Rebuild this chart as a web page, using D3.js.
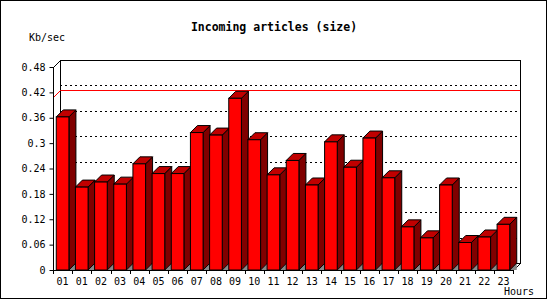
<!DOCTYPE html>
<html>
<head>
<meta charset="utf-8">
<script src="https://cdn.jsdelivr.net/npm/d3@7"></script>
<style>
  body { margin: 0; background: #fff; }
  svg text { font-family: "DejaVu Sans Mono", monospace; font-size: 10px; fill: #000; }
</style>
</head>
<body>
<svg width="550" height="300"></svg>
<script>
// hourly data
var hours = ["01", "01", "02", "03", "04", "05", "06", "07", "08", "09", "10", "11",
             "12", "13", "14", "15", "16", "17", "18", "19", "20", "21", "22", "23"];
var kbPerSec = [0.362, 0.196, 0.208, 0.203, 0.251, 0.228, 0.228, 0.325, 0.319, 0.406, 0.308, 0.225,
                0.259, 0.201, 0.303, 0.243, 0.312, 0.218, 0.102, 0.076, 0.201, 0.065, 0.078, 0.108];
var yTicks = [0, 0.06, 0.12, 0.18, 0.24, 0.3, 0.36, 0.42, 0.48];
var markLine = 0.409;

var svg = d3.select("svg"),
    width = +svg.attr("width"),
    height = +svg.attr("height");

var pLeft = 53, pRight = 513, pBottom = 270, pTop = 67,
    dx = 7, dy = 7;

var x = d3.scaleBand()
    .domain(d3.range(hours.length))
    .range([pLeft, pRight])
    .paddingInner(0.34)
    .paddingOuter(0.17);

var y = d3.scaleLinear()
    .domain([0, 0.48])
    .range([pBottom, pTop]);

// outer frame
svg.append("rect")
    .attr("x", 0.5).attr("y", 0.5)
    .attr("width", width - 4).attr("height", height - 2)
    .attr("fill", "#fff")
    .attr("stroke", "#000");

// back plane
svg.append("rect")
    .attr("x", pLeft + dx + 0.5).attr("y", pTop - dy + 0.5)
    .attr("width", pRight - pLeft).attr("height", pBottom - pTop)
    .attr("fill", "#fff")
    .attr("stroke", "#000");

// dotted grid on back plane
svg.append("g")
    .selectAll("line")
    .data(yTicks.filter(d => d > 0 && d < 0.48))
    .enter().append("line")
    .attr("x1", pLeft + dx).attr("x2", pRight + dx)
    .attr("y1", d => Math.round(y(d) - dy) + 0.5)
    .attr("y2", d => Math.round(y(d) - dy) + 0.5)
    .attr("stroke", "#000")
    .attr("stroke-dasharray", "2,3");

// red mark line
var ym = Math.round(y(markLine)) + 0.5;
svg.append("path")
    .attr("d", "M" + (pLeft + 0.5) + "," + ym + "L" + (pLeft + dx + 0.5) + "," + (ym - dy) + "L" + (pRight + dx) + "," + (ym - dy))
    .attr("fill", "none")
    .attr("stroke", "#f00");

// 3d corners
svg.append("path")
    .attr("d", "M" + (pLeft + 0.5) + "," + (pTop + 0.5) + "L" + (pLeft + dx + 0.5) + "," + (pTop - dy + 0.5) +
               "M" + (pRight + 0.5) + "," + (pBottom + 0.5) + "L" + (pRight + dx + 0.5) + "," + (pBottom - dy + 0.5))
    .attr("fill", "none")
    .attr("stroke", "#000");

// bars
var bars = svg.append("g")
    .selectAll("g")
    .data(kbPerSec)
    .enter().append("g");

bars.append("path")
    .attr("d", function (d, i) {
        var x1 = x(i) + x.bandwidth();
        return "M" + x1 + "," + pBottom + "L" + (x1 + dx) + "," + (pBottom - dy) + "L" + (x1 + dx) + "," + pBottom + "Z";
    })
    .attr("fill", "#888");

bars.append("path")
    .attr("d", function (d, i) {
        var x1 = x(i) + x.bandwidth(), yt = y(d);
        return "M" + x1 + "," + yt + "L" + (x1 + dx) + "," + (yt - dy) + "L" + (x1 + dx) + "," + (pBottom - dy) + "L" + x1 + "," + pBottom + "Z";
    })
    .attr("fill", "#800000")
    .attr("stroke", "#000");

bars.append("path")
    .attr("d", function (d, i) {
        var x0 = x(i), x1 = x0 + x.bandwidth(), yt = y(d);
        return "M" + x0 + "," + yt + "L" + (x0 + dx) + "," + (yt - dy) + "L" + (x1 + dx) + "," + (yt - dy) + "L" + x1 + "," + yt + "Z";
    })
    .attr("fill", "#c00000")
    .attr("stroke", "#000");

bars.append("rect")
    .attr("x", (d, i) => x(i))
    .attr("y", d => y(d))
    .attr("width", x.bandwidth())
    .attr("height", d => pBottom - y(d))
    .attr("fill", "#f00")
    .attr("stroke", "#000");

// y axis
var yAxis = svg.append("g")
    .attr("transform", "translate(" + (pLeft + 0.5) + ",0)")
    .call(d3.axisLeft(y).tickValues(yTicks).tickSize(4).tickPadding(4)
        .tickFormat(d => d === 0 ? "0" : d3.format(".2~f")(d)));
yAxis.select(".domain").attr("d", "M0," + pTop + "V" + pBottom);

// x axis labels
var xAxis = svg.append("g")
    .attr("transform", "translate(0," + (pBottom + 0.5) + ")")
    .call(d3.axisBottom(x).tickSize(0).tickPadding(7).tickFormat(i => hours[i]));
xAxis.select(".domain").attr("d", "M" + pLeft + ",0H" + pRight);
xAxis.attr("font-family", null).attr("font-size", null);
yAxis.attr("font-family", null).attr("font-size", null);

// x boundary ticks
svg.append("g")
    .selectAll("line")
    .data(d3.range(hours.length + 1))
    .enter().append("line")
    .attr("x1", i => Math.round(pLeft + i * x.step()) + 0.5)
    .attr("x2", i => Math.round(pLeft + i * x.step()) + 0.5)
    .attr("y1", pBottom)
    .attr("y2", pBottom + 4)
    .attr("stroke", "#000");

// titles
svg.append("text")
    .attr("x", 274).attr("y", 31)
    .attr("text-anchor", "middle")
    .style("font-weight", "bold")
    .style("font-size", "11.5px")
    .text("Incoming articles (size)");

svg.append("text")
    .attr("x", 29).attr("y", 41)
    .text("Kb/sec");

svg.append("text")
    .attr("x", 534).attr("y", 295)
    .attr("text-anchor", "end")
    .text("Hours");
</script>
</body>
</html>
